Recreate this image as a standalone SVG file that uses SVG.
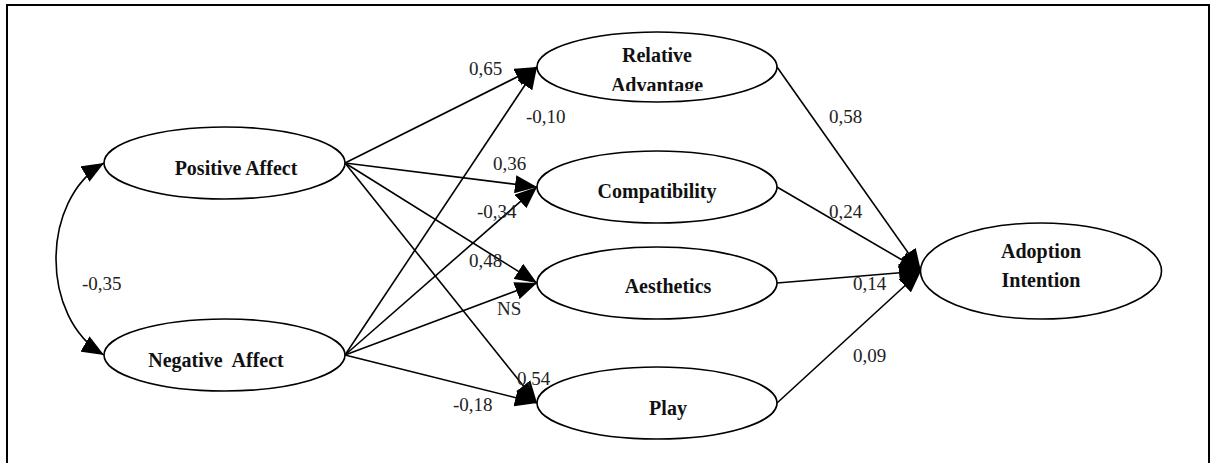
<svg xmlns="http://www.w3.org/2000/svg" width="1212" height="463" viewBox="0 0 1212 463" font-family="'Liberation Serif', 'Times New Roman', Times, serif">
  <style>
    .node ellipse { fill: #ffffff; stroke: #000000; stroke-width: 1.6; }
    .nlabel { font-family: 'Liberation Serif', 'Times New Roman', Times, serif; font-weight: bold; font-size: 20px; fill: #111111; text-anchor: middle; white-space: pre; }
    .elabel { font-family: 'Liberation Serif', 'Times New Roman', Times, serif; font-size: 19px; fill: #222222; }
    .edge { fill: none; stroke: #000000; stroke-width: 1.6; marker-end: url(#arrow); }
    .frame { fill: none; stroke: #000000; stroke-width: 2; }
  </style>
  <defs>
    <marker id="arrow" viewBox="0 0 22 18" refX="22" refY="9" markerWidth="22" markerHeight="18" markerUnits="userSpaceOnUse" orient="auto-start-reverse">
      <path d="M0,0 L22,9 L0,18 z" fill="#000000"/>
    </marker>
    <clipPath id="clipRA">
      <rect x="540" y="30" width="235" height="61"/>
    </clipPath>
  </defs>
  <rect x="0" y="0" width="1212" height="463" fill="#ffffff"/>
  <path class="frame" d="M7,463 L7,5 L1209,5 L1209,463"/>

  <g id="connectors">
    <path class="edge" d="M104,163 C40,200 40,318 104,355" style="marker-start:url(#arrow)"/>
    <line class="edge" x1="345" y1="163" x2="537" y2="67"/>
    <line class="edge" x1="345" y1="163" x2="537" y2="187"/>
    <line class="edge" x1="345" y1="163" x2="537" y2="283"/>
    <line class="edge" x1="345" y1="163" x2="537" y2="403"/>
    <line class="edge" x1="345" y1="355" x2="537" y2="67"/>
    <line class="edge" x1="345" y1="355" x2="537" y2="187"/>
    <line class="edge" x1="345" y1="355" x2="537" y2="283"/>
    <line class="edge" x1="345" y1="355" x2="537" y2="403"/>
    <line class="edge" x1="777" y1="67" x2="921" y2="271"/>
    <line class="edge" x1="777" y1="187" x2="921" y2="271"/>
    <line class="edge" x1="777" y1="283" x2="921" y2="271"/>
    <line class="edge" x1="777" y1="403" x2="921" y2="271"/>
  </g>

  <g id="edge-labels">
    <text class="elabel" x="82" y="290">-0,35</text>
    <text class="elabel" x="469" y="75">0,65</text>
    <text class="elabel" x="526" y="123">-0,10</text>
    <text class="elabel" x="493" y="170">0,36</text>
    <text class="elabel" x="477" y="218">-0,34</text>
    <text class="elabel" x="469" y="267">0,48</text>
    <text class="elabel" x="497" y="315">NS</text>
    <text class="elabel" x="517" y="385">0,54</text>
    <text class="elabel" x="453" y="411">-0,18</text>
    <text class="elabel" x="829" y="123">0,58</text>
    <text class="elabel" x="829" y="218">0,24</text>
    <text class="elabel" x="853" y="290">0,14</text>
    <text class="elabel" x="853" y="362">0,09</text>
  </g>

  <g id="positive-affect" class="node">
    <ellipse cx="224.5" cy="163" rx="120.5" ry="36"/>
    <text class="nlabel" x="236" y="175">Positive Affect</text>
  </g>
  <g id="negative-affect" class="node">
    <ellipse cx="224.5" cy="355" rx="120.5" ry="36"/>
    <text class="nlabel" x="216" y="367">Negative  Affect</text>
  </g>
  <g id="relative-advantage" class="node">
    <ellipse cx="657" cy="67" rx="120" ry="35"/>
    <g clip-path="url(#clipRA)">
      <text class="nlabel" x="657" y="62">Relative</text>
      <text class="nlabel" x="657" y="92">Advantage</text>
    </g>
  </g>
  <g id="compatibility" class="node">
    <ellipse cx="657" cy="187" rx="120" ry="36"/>
    <text class="nlabel" x="657" y="198">Compatibility</text>
  </g>
  <g id="aesthetics" class="node">
    <ellipse cx="657" cy="283" rx="120" ry="36"/>
    <text class="nlabel" x="668" y="293">Aesthetics</text>
  </g>
  <g id="play" class="node">
    <ellipse cx="657" cy="403" rx="120" ry="36"/>
    <text class="nlabel" x="668" y="415">Play</text>
  </g>
  <g id="adoption-intention" class="node">
    <ellipse cx="1041" cy="271" rx="120.5" ry="48"/>
    <text class="nlabel" x="1041" y="258">Adoption</text>
    <text class="nlabel" x="1041" y="287">Intention</text>
  </g>
</svg>
